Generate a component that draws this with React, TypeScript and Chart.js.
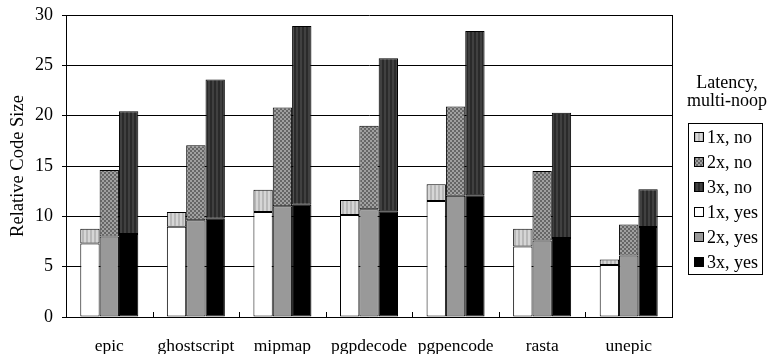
import React, { useEffect, useRef } from 'react';
import { Chart, registerables } from 'chart.js';
Chart.register(...registerables);

const categories = ['epic', 'ghostscript', 'mipmap', 'pgpdecode', 'pgpencode', 'rasta', 'unepic'];
// "yes" = with multi-noop; "no" = total without multi-noop
const yes1x = [7.3, 8.97, 10.43, 10.13, 11.52, 7.0, 5.16];
const no1x = [8.77, 10.43, 12.64, 11.62, 13.18, 8.77, 5.72];
const yes2x = [8.0, 9.6, 11.0, 10.7, 12.05, 7.6, 6.12];
const no2x = [14.6, 17.05, 20.8, 19.0, 20.9, 14.5, 9.2];
const yes3x = [8.25, 9.77, 11.15, 10.5, 12.1, 7.85, 8.93];
const no3x = [20.45, 23.6, 28.9, 25.7, 28.4, 20.3, 12.68];
const yTicks = [0, 5, 10, 15, 20, 25, 30];
const legendTitle = ['Latency,', 'multi-noop'];
const legendOrder = ['1x, no', '2x, no', '3x, no', '1x, yes', '2x, yes', '3x, yes'];

const FONT = '"Liberation Serif", "Times New Roman", serif';

function makePattern(w: number, h: number, draw: (c: CanvasRenderingContext2D) => void): CanvasPattern | string {
  const cv = document.createElement('canvas');
  cv.width = w;
  cv.height = h;
  const c = cv.getContext('2d')!;
  draw(c);
  const p = c.createPattern(cv, 'repeat');
  return p || '#888';
}

export default function App() {
  const ref = useRef<HTMLCanvasElement | null>(null);

  useEffect(() => {
    if (!ref.current) return;
    const stripeLight = makePattern(4, 1, (c) => {
      c.fillStyle = '#d6d6d6'; c.fillRect(0, 0, 2, 1);
      c.fillStyle = '#b8b8b8'; c.fillRect(2, 0, 2, 1);
    });
    const checker = makePattern(4, 4, (c) => {
      c.fillStyle = '#a0a0a0'; c.fillRect(0, 0, 4, 4);
      c.fillStyle = '#666666'; c.fillRect(0, 0, 2, 2); c.fillRect(2, 2, 2, 2);
    });
    const stripeDark = makePattern(4, 1, (c) => {
      c.fillStyle = '#404040'; c.fillRect(0, 0, 2, 1);
      c.fillStyle = '#2a2a2a'; c.fillRect(2, 0, 2, 1);
    });
    const fills: Record<string, any> = {
      '1x, no': stripeLight,
      '2x, no': checker,
      '3x, no': stripeDark,
      '1x, yes': '#ffffff',
      '2x, yes': '#999999',
      '3x, yes': '#000000',
    };
    const diff = (a: number[], b: number[]) => a.map((v, i) => +(v - b[i]).toFixed(3));
    const mk = (label: string, stack: string, data: number[]) => ({
      label,
      stack,
      data,
      backgroundColor: fills[label],
      borderColor: '#000000',
      borderWidth: 1,
      borderSkipped: false as const,
      barPercentage: 1.0,
      categoryPercentage: 0.67,
    });
    const datasets = [
      mk('1x, yes', '1x', yes1x),
      mk('1x, no', '1x', diff(no1x, yes1x)),
      mk('2x, yes', '2x', yes2x),
      mk('2x, no', '2x', diff(no2x, yes2x)),
      mk('3x, yes', '3x', yes3x),
      mk('3x, no', '3x', diff(no3x, yes3x)),
    ];

    const framePlugin = {
      id: 'frame',
      afterDraw(chart: any) {
        const { ctx, chartArea } = chart;
        const { left, right, top, bottom } = chartArea;
        ctx.save();
        ctx.strokeStyle = '#000';
        ctx.lineWidth = 1;
        ctx.beginPath();
        ctx.moveTo(Math.round(right) + 0.5, top);
        ctx.lineTo(Math.round(right) + 0.5, bottom);
        const n = categories.length;
        for (let i = 1; i < n; i++) {
          const x = Math.round(left + (i * (right - left)) / n) + 0.5;
          ctx.moveTo(x, bottom);
          ctx.lineTo(x, bottom - 5);
        }
        ctx.stroke();

        // legend title
        ctx.fillStyle = '#000';
        ctx.font = `18px ${FONT}`;
        ctx.textAlign = 'center';
        ctx.textBaseline = 'alphabetic';
        ctx.fillText(legendTitle[0], 727, 88);
        ctx.fillText(legendTitle[1], 727, 106);

        // legend box
        ctx.strokeRect(688.5, 123.5, 74, 151);
        ctx.textAlign = 'left';
        legendOrder.forEach((lab, i) => {
          const cy = 137 + i * 24.9;
          ctx.fillStyle = fills[lab];
          ctx.fillRect(694, Math.round(cy - 5), 10, 10);
          ctx.strokeStyle = '#000';
          ctx.strokeRect(694.5, Math.round(cy - 5) + 0.5, 9, 9);
          ctx.fillStyle = '#000';
          ctx.fillText(lab, 707, cy + 6);
        });
        ctx.restore();
      },
    };

    const chart = new Chart(ref.current, {
      type: 'bar',
      data: { labels: categories, datasets },
      options: {
        animation: false,
        responsive: true,
        maintainAspectRatio: false,
        layout: { padding: { left: 0, top: 15, right: 96, bottom: 0 } },
        plugins: { legend: { display: false }, tooltip: { enabled: false } },
        scales: {
          x: {
            stacked: true,
            grid: { display: false, drawTicks: false },
            border: { display: true, color: '#000', width: 1 },
            ticks: { color: '#000', font: { family: FONT, size: 17.5 }, padding: 19, maxRotation: 0 },
            afterFit: (s: any) => { s.height = 37; s.paddingLeft = 0; s.paddingRight = 0; },
          },
          y: {
            stacked: true,
            min: 0,
            max: 30,
            afterBuildTicks: (s: any) => { s.ticks = yTicks.map((v) => ({ value: v })); },
            grid: { color: '#000', lineWidth: 1, tickLength: 4, drawTicks: true },
            border: { display: true, color: '#000', width: 1 },
            ticks: { color: '#000', font: { family: FONT, size: 18 }, padding: 9 },
            title: { display: true, text: 'Relative Code Size', color: '#000', font: { family: FONT, size: 18.5 }, padding: { top: 7, bottom: 0 } },
            afterFit: (s: any) => { s.width = 66; s.paddingTop = 0; s.paddingBottom = 0; },
          },
        },
      },
      plugins: [framePlugin],
    });
    return () => chart.destroy();
  }, []);

  return (
    <div style={{ position: 'absolute', left: 0, top: 0, width: 768, height: 354 }}>
      <canvas ref={ref} />
    </div>
  );
}
